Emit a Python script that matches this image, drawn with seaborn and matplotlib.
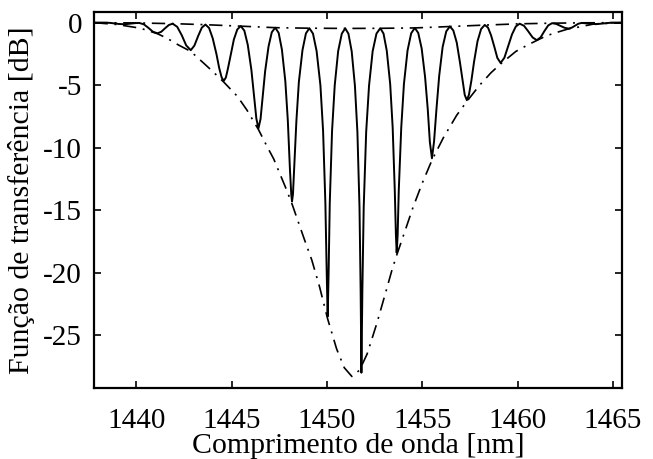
import matplotlib
matplotlib.use("Agg")
import matplotlib.pyplot as plt
import numpy as np
import pandas as pd
import seaborn as sns

# Transmission spectrum of the filter: wavelength [nm] and transfer function [dB]
wavelength_nm = [
    1437.8, 1438.4, 1438.625, 1438.85, 1439.075, 1439.3, 1439.51, 1439.73, 1439.94, 1440.15,
    1440.39, 1440.63, 1440.86, 1441.1, 1441.3, 1441.5, 1441.7, 1441.9,
    1442.14, 1442.38, 1442.61, 1442.85, 1443.04, 1443.24, 1443.43, 1443.62,
    1443.81, 1444.0, 1444.2, 1444.34, 1444.47, 1444.58, 1444.69, 1444.80, 1444.94, 1445.11, 1445.29, 1445.47,
    1445.66, 1445.84, 1446.03, 1446.17, 1446.29, 1446.4, 1446.51, 1446.62, 1446.75, 1446.93, 1447.10, 1447.28,
    1447.46, 1447.63, 1447.81, 1447.94, 1448.05, 1448.12, 1448.16, 1448.21, 1448.27, 1448.39, 1448.52, 1448.71, 1448.89, 1449.07,
    1449.26, 1449.45, 1449.65, 1449.79, 1449.91, 1449.98, 1450.03, 1450.08, 1450.14, 1450.26, 1450.40, 1450.58, 1450.77, 1450.95,
    1451.12, 1451.29, 1451.46, 1451.59, 1451.70, 1451.76, 1451.8, 1451.85, 1451.92, 1452.05, 1452.20, 1452.39, 1452.59, 1452.79,
    1452.96, 1453.13, 1453.31, 1453.44, 1453.55, 1453.61, 1453.65, 1453.70, 1453.76, 1453.89, 1454.03, 1454.22, 1454.41, 1454.6,
    1454.78, 1454.96, 1455.14, 1455.28, 1455.39, 1455.5, 1455.61, 1455.74, 1455.88, 1456.06, 1456.25, 1456.44,
    1456.62, 1456.80, 1456.97, 1457.11, 1457.22, 1457.33, 1457.44, 1457.57, 1457.71, 1457.89, 1458.08, 1458.27,
    1458.44, 1458.60, 1458.77, 1458.93, 1459.1, 1459.3, 1459.5, 1459.7, 1459.9, 1460.1,
    1460.33, 1460.55, 1460.78, 1461.0, 1461.2, 1461.4, 1461.6, 1461.8,
    1462.02, 1462.23, 1462.45, 1462.66, 1462.83, 1463.01, 1463.18, 1463.35,
    1463.73, 1464.1, 1464.5, 1464.9, 1465.45,
]
transfer_db = [
    0.0, 0.0, -0.017, -0.060, -0.102, -0.12, -0.105, -0.070, -0.034, -0.02,
    -0.132, -0.416, -0.719, -0.85, -0.729, -0.448, -0.185, -0.08,
    -0.333, -1.012, -1.817, -2.2, -1.832, -1.055, -0.396, -0.15,
    -0.426, -1.245, -2.532, -3.625, -4.381, -4.65, -4.392, -3.664, -2.603, -1.347, -0.542, -0.27,
    -0.636, -1.776, -3.786, -5.857, -7.673, -8.45, -7.698, -5.926, -3.887, -1.896, -0.764, -0.40,
    -0.817, -2.149, -4.693, -7.820, -11.685, -13.712, -14.3, -13.717, -11.702, -7.852, -4.730, -2.188, -0.857, -0.44,
    -0.874, -2.270, -5.016, -8.661, -14.433, -19.996, -23.5, -20.003, -14.442, -8.671, -5.025, -2.280, -0.884, -0.45,
    -0.885, -2.287, -5.051, -8.749, -14.791, -21.47, -28.0, -21.462, -14.782, -8.739, -5.041, -2.277, -0.875, -0.44,
    -0.869, -2.244, -4.926, -8.398, -13.405, -17.005, -18.4, -17.0, -13.391, -8.380, -4.907, -2.224, -0.849, -0.42,
    -0.815, -2.058, -4.349, -6.923, -9.539, -10.85, -9.504, -6.845, -4.245, -1.943, -0.696, -0.30,
    -0.619, -1.588, -3.192, -4.668, -5.780, -6.2, -5.765, -4.618, -3.111, -1.483, -0.503, -0.18,
    -0.394, -1.010, -1.916, -2.819, -3.22, -2.801, -1.864, -0.931, -0.300, -0.08,
    -0.250, -0.690, -1.180, -1.40, -1.173, -0.667, -0.215, -0.04,
    -0.100, -0.250, -0.404, -0.47, -0.401, -0.239, -0.083, -0.02,
    -0.070, -0.12, -0.060, 0.0, 0.0,
]

# Lower envelope (through the fringe minima)
lower_env_nm = [
    1437.8, 1439.0, 1440.2, 1441.1, 1441.6, 1442.2, 1442.85, 1443.5, 1444.0, 1444.58,
    1445.3, 1445.8, 1446.4, 1446.85, 1447.2, 1447.8, 1448.16, 1448.8, 1449.2, 1449.6,
    1450.03, 1450.5, 1450.9, 1451.3, 1451.7, 1452.1, 1452.6, 1453.05, 1453.4, 1453.65,
    1454.1, 1454.5, 1455.0, 1455.5, 1456.1, 1456.8, 1457.33, 1458.0, 1458.6, 1459.1,
    1459.9, 1460.5, 1461.0, 1461.5, 1462.0, 1462.6, 1463.2, 1464.0, 1465.45,
]
lower_env_db = [
    0.0, -0.15, -0.44, -0.88, -1.24, -1.78, -2.3, -3.2, -3.9, -4.75,
    -5.9, -7.0, -8.55, -9.9, -10.9, -13.1, -14.5, -17.3, -19.0, -21.1,
    -23.7, -26.1, -27.6, -28.3, -27.8, -26.5, -24.1, -21.7, -19.8, -18.6,
    -16.6, -14.8, -12.8, -11.0, -9.2, -7.4, -6.3, -5.0, -4.0, -3.3,
    -2.3, -1.8, -1.42, -1.05, -0.8, -0.52, -0.35, -0.1, 0.0,
]

# Upper envelope (through the fringe maxima)
upper_env_nm = [1437.8, 1440.0, 1442.0, 1443.6, 1445.5, 1447.3, 1449.0, 1451.0,
                1452.8, 1454.6, 1456.4, 1458.3, 1460.1, 1461.8, 1463.4, 1465.45]
upper_env_db = [0.0, -0.02, -0.08, -0.16, -0.28, -0.4, -0.44, -0.46,
                -0.45, -0.42, -0.31, -0.19, -0.09, -0.04, -0.01, 0.0]

x_ticks = [1440, 1445, 1450, 1455, 1460, 1465]
y_ticks = [0, -5, -10, -15, -20, -25]

sns.set_theme(style="ticks")
plt.rcParams["font.family"] = ["Liberation Serif", "DejaVu Serif"]
plt.rcParams["axes.unicode_minus"] = False

spectrum = pd.DataFrame({"nm": wavelength_nm, "db": transfer_db})
lower = pd.DataFrame({"nm": lower_env_nm, "db": lower_env_db})
upper = pd.DataFrame({"nm": upper_env_nm, "db": upper_env_db})

fig, ax = plt.subplots(figsize=(6.53, 4.59), dpi=100)
fig.subplots_adjust(left=0.1447, right=0.952, top=0.974, bottom=0.154)

dashdot = (0, (8, 4, 1.2, 4))
sns.lineplot(data=upper, x="nm", y="db", ax=ax, color="black", lw=1.2,
             linestyle=dashdot, sort=False, estimator=None)
sns.lineplot(data=lower, x="nm", y="db", ax=ax, color="black", lw=1.2,
             linestyle=dashdot, sort=False, estimator=None)
sns.lineplot(data=spectrum, x="nm", y="db", ax=ax, color="black", lw=1.4,
             sort=False, estimator=None)

ax.set_xlim(1437.8, 1465.45)
ax.set_ylim(-29.25, 0.86)
ax.set_xticks(x_ticks)
ax.set_xticklabels([str(v) for v in x_ticks])
ax.set_yticks(y_ticks)
ax.set_yticklabels([str(v) for v in y_ticks])

for side in ["left", "right", "top", "bottom"]:
    ax.spines[side].set_visible(True)
    ax.spines[side].set_linewidth(1.6)
    ax.spines[side].set_color("black")

ax.tick_params(axis="both", which="major", direction="in", top=True, right=True,
               length=5, width=1.2, colors="black", labelsize=21)
ax.tick_params(axis="x", pad=14)
ax.tick_params(axis="y", pad=9)

ax.set_xlabel("Comprimento de onda [nm]", fontsize=21.5, color="black")
ax.xaxis.set_label_coords(0.5, -0.118)
ax.set_ylabel("Função de transferência [dB]", fontsize=21.5, color="black", labelpad=6)

fig.savefig("out.png", dpi=100, facecolor="white")
